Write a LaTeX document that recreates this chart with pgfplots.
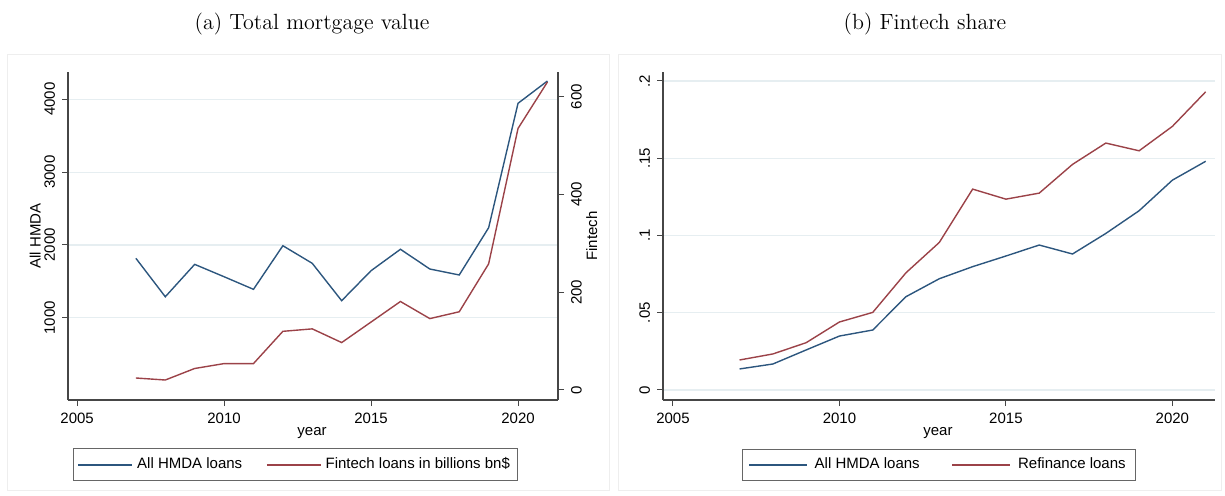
\documentclass[border=0pt]{standalone}
\usepackage{fontspec}
\usepackage{pgfplots}
\pgfplotsset{compat=1.18}
\newfontfamily\arial{Liberation Sans}

\definecolor{stnavy}{RGB}{44,86,126}
\definecolor{stmaroon}{RGB}{155,66,72}
\definecolor{gridc}{RGB}{230,238,241}
\definecolor{axc}{RGB}{70,70,70}
\definecolor{framec}{RGB}{238,238,238}

\pgfplotsset{
  stata/.style={
    scale only axis, height=164pt,
    font=\arial\fontsize{7.5}{9}\selectfont,
    /pgf/number format/assume math mode=true,
    tick align=outside, major tick length=3pt,
    tick style={axc, line width=0.5pt},
    axis line style={axc, line width=0.6pt},
    major grid style={gridc, line width=0.6pt},
    legend columns=2,
    legend image code/.code={\draw[#1] (0pt,0pt) -- (27pt,0pt);},
    legend style={anchor=center, draw=black!60, line width=0.5pt,
      font=\arial\fontsize{7.5}{9}\selectfont,
      inner xsep=2pt, inner ysep=2.5pt,
      /tikz/every even column/.append style={column sep=10pt}},
  },
  blueline/.style={stnavy, line width=0.7pt},
  redline/.style={stmaroon, line width=0.7pt},
}

\begin{document}
\begin{tikzpicture}
\path[use as bounding box] (0,0) rectangle (612.5pt,-248pt);
\draw[framec, line width=0.5pt] (3.5pt,-27.5pt) rectangle (304.5pt,-245pt);
\draw[framec, line width=0.5pt] (309pt,-27.5pt) rectangle (610.5pt,-245pt);
\node[font=\fontsize{11}{13}\selectfont] at (156pt,-12pt) {(a) Total mortgage value};
\node[font=\fontsize{11}{13}\selectfont] at (462.5pt,-12pt) {(b) Fintech share};

% (a) left axis: all HMDA
\begin{axis}[stata, at={(34pt,-200pt)}, anchor=south west, width=245pt,
  xmin=2004.69, xmax=2021.36, ymin=-130, ymax=4375,
  axis x line*=bottom, axis y line*=left,
  xtick={2005,2010,2015,2020}, xticklabels={2005,2010,2015,2020},
  ytick={1000,2000,3000,4000}, yticklabels={1000,2000,3000,4000},
  yticklabel style={rotate=90, anchor=south},
  ymajorgrids,
  xlabel={year}, ylabel={All HMDA},
  xlabel style={at={(axis description cs:0.498,-0.10)}, anchor=center},
  ylabel style={at={(axis description cs:-0.067,0.5)}, anchor=center},
]
\addplot[blueline] coordinates {
  (2007,1816) (2008,1288) (2009,1733) (2010,1563) (2011,1390)
  (2012,1989) (2013,1747) (2014,1234) (2015,1646) (2016,1940)
  (2017,1669) (2018,1587) (2019,2236) (2020,3945) (2021,4251)
};
\end{axis}

% (a) right axis: fintech
\begin{axis}[stata, at={(34pt,-200pt)}, anchor=south west, width=245pt,
  xmin=2004.69, xmax=2021.36, ymin=-20.5, ymax=650.5,
  axis x line=none, axis y line*=right,
  ytick={0,200,400,600}, yticklabels={0,200,400,600},
  yticklabel style={rotate=90, anchor=north},
  ylabel={Fintech},
  ylabel style={at={(axis description cs:1.069,0.5)}, anchor=center, rotate=0},
  legend style={at={(0.465,-0.198)}},
]
\addlegendimage{blueline}
\addlegendentry{All HMDA loans}
\addplot[redline] coordinates {
  (2007,24.5) (2008,20.4) (2009,44) (2010,54) (2011,54)
  (2012,120) (2013,125) (2014,97) (2015,139) (2016,181)
  (2017,146) (2018,160) (2019,258) (2020,535) (2021,630)
};
\addlegendentry{Fintech loans in billions bn\$}
\end{axis}

% (b) fintech share
\begin{axis}[stata, at={(331.5pt,-200pt)}, anchor=south west, width=276pt,
  xmin=2004.7, xmax=2021.28, ymin=-0.0065, ymax=0.2058,
  axis x line*=bottom, axis y line*=left,
  xtick={2005,2010,2015,2020}, xticklabels={2005,2010,2015,2020},
  ytick={0,0.05,0.1,0.15,0.2}, yticklabels={0,.05,.1,.15,.2},
  yticklabel style={rotate=90, anchor=south},
  ymajorgrids,
  xlabel={year},
  xlabel style={at={(axis description cs:0.498,-0.10)}, anchor=center},
  legend image code/.code={\draw[#1] (0pt,0pt) -- (29pt,0pt);},
  legend style={at={(0.5,-0.198)}, inner xsep=3pt,
    /tikz/every even column/.append style={column sep=14pt},
    /tikz/every odd column/.append style={column sep=1.5pt}},
]
\addplot[blueline] coordinates {
  (2007,0.0136) (2008,0.0168) (2009,0.0259) (2010,0.0349) (2011,0.0388)
  (2012,0.0604) (2013,0.0720) (2014,0.0798) (2015,0.0867) (2016,0.0938)
  (2017,0.0880) (2018,0.1013) (2019,0.1160) (2020,0.1358) (2021,0.1480)
};
\addlegendentry{All HMDA loans}
\addplot[redline] coordinates {
  (2007,0.0194) (2008,0.0233) (2009,0.0306) (2010,0.0440) (2011,0.0502)
  (2012,0.0759) (2013,0.0955) (2014,0.1300) (2015,0.1235) (2016,0.1274)
  (2017,0.1460) (2018,0.1598) (2019,0.1548) (2020,0.1706) (2021,0.1930)
};
\addlegendentry{Refinance loans}
\end{axis}
\end{tikzpicture}
\end{document}
